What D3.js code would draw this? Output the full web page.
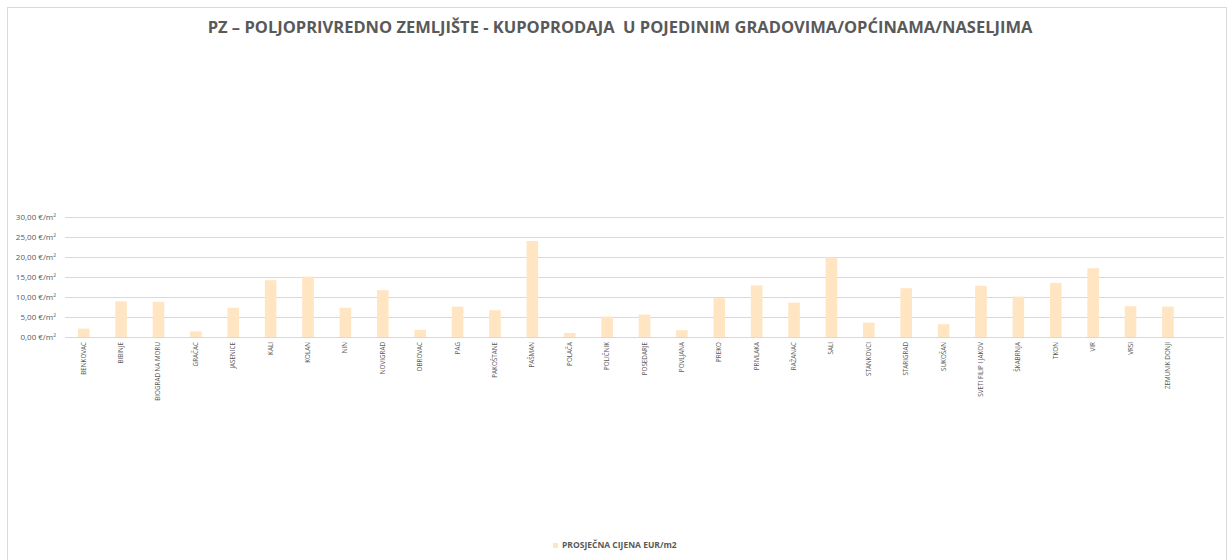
<!DOCTYPE html>
<html lang="hr">
<head>
<meta charset="UTF-8">
<script src="https://d3js.org/d3.v7.min.js"></script>
<style>
  body { margin: 0; background: #fff; font-family: "Open Sans", "Noto Sans", sans-serif; }
  .grid line { stroke: #d9d9d9; stroke-width: 1; shape-rendering: crispEdges; }
  .ylab { fill: #595959; font-size: 8px; }
  .xlab { fill: #595959; font-size: 6.3px; }
</style>
</head>
<body>
<svg id="canvas" width="1229" height="560"></svg>
<script>
  // data
  const places = ["BENKOVAC", "BIBINJE", "BIOGRAD NA MORU", "GRAČAC", "JASENICE", "KALI", "KOLAN", "NIN",
    "NOVIGRAD", "OBROVAC", "PAG", "PAKOŠTANE", "PAŠMAN", "POLAČA", "POLIČNIK", "POSEDARJE", "POVLJANA",
    "PREKO", "PRIVLAKA", "RAŽANAC", "SALI", "STANKOVCI", "STARIGRAD", "SUKOŠAN", "SVETI FILIP I JAKOV",
    "ŠKABRNJA", "TKON", "VIR", "VRSI", "ZEMUNIK DONJI", ""];
  const prices = [2.1, 8.9, 8.8, 1.4, 7.3, 14.2, 15.1, 7.3, 11.7, 1.8, 7.6, 6.7, 24.0, 1.0, 5.1, 5.6, 1.7,
    9.7, 12.9, 8.6, 19.9, 3.6, 12.2, 3.2, 12.8, 10.1, 13.5, 17.2, 7.7, 7.6, null];
  const yTicks = [0, 5, 10, 15, 20, 25, 30];
  const seriesName = "PROSJEČNA CIJENA EUR/m2";
  const chartTitle = "PZ – POLJOPRIVREDNO ZEMLJIŠTE - KUPOPRODAJA  U POJEDINIM GRADOVIMA/OPĆINAMA/NASELJIMA";

  const barColor = "#ffe5c2";
  const svg = d3.select("#canvas");

  // outer chart border
  svg.append("rect")
    .attr("x", 7.5).attr("y", 7.5)
    .attr("width", 1219).attr("height", 560)
    .attr("fill", "none").attr("stroke", "#d9d9d9");

  svg.append("text")
    .attr("x", 620).attr("y", 33)
    .attr("text-anchor", "middle")
    .attr("fill", "#595959")
    .attr("font-weight", "bold")
    .attr("font-size", 16.5)
    .style("white-space", "pre")
    .text(chartTitle);

  const plotL = 65, plotR = 1224, plotT = 217, plotB = 337;

  const x = d3.scaleBand()
    .domain(places.map((d, i) => i))
    .range([plotL, plotR])
    .paddingInner(0.69)
    .paddingOuter(0.345);

  const y = d3.scaleLinear()
    .domain([0, 30])
    .range([plotB, plotT]);

  // gridlines
  svg.append("g")
    .attr("class", "grid")
    .selectAll("line")
    .data(yTicks)
    .join("line")
    .attr("x1", plotL).attr("x2", plotR)
    .attr("y1", d => y(d)).attr("y2", d => y(d));

  // y labels
  svg.append("g")
    .selectAll("text")
    .data(yTicks)
    .join("text")
    .attr("class", "ylab")
    .attr("x", 56)
    .attr("y", d => y(d) + 3)
    .attr("text-anchor", "end")
    .text(d => d3.format(".2f")(d).replace(".", ",") + " €/m²");

  // bars
  svg.append("g")
    .selectAll("rect")
    .data(prices.map((v, i) => ({ v, i })).filter(d => d.v !== null))
    .join("rect")
    .attr("x", d => x(d.i))
    .attr("width", x.bandwidth())
    .attr("y", d => y(d.v))
    .attr("height", d => y(0) - y(d.v))
    .attr("fill", barColor);

  // x labels, rotated
  svg.append("g")
    .selectAll("text")
    .data(places.map((p, i) => ({ p, i })))
    .join("text")
    .attr("class", "xlab")
    .attr("text-anchor", "end")
    .attr("transform", d => `translate(${x(d.i) + x.bandwidth() / 2 + 2},${plotB + 5}) rotate(-90)`)
    .text(d => d.p);

  // legend
  const leg = svg.append("g").attr("transform", "translate(553,548)");
  leg.append("rect")
    .attr("x", 0).attr("y", -5)
    .attr("width", 5).attr("height", 5)
    .attr("fill", barColor);
  leg.append("text")
    .attr("x", 9).attr("y", 0)
    .attr("fill", "#595959")
    .attr("font-size", 8.5)
    .attr("font-weight", "bold")
    .text(seriesName);
</script>
</body>
</html>
